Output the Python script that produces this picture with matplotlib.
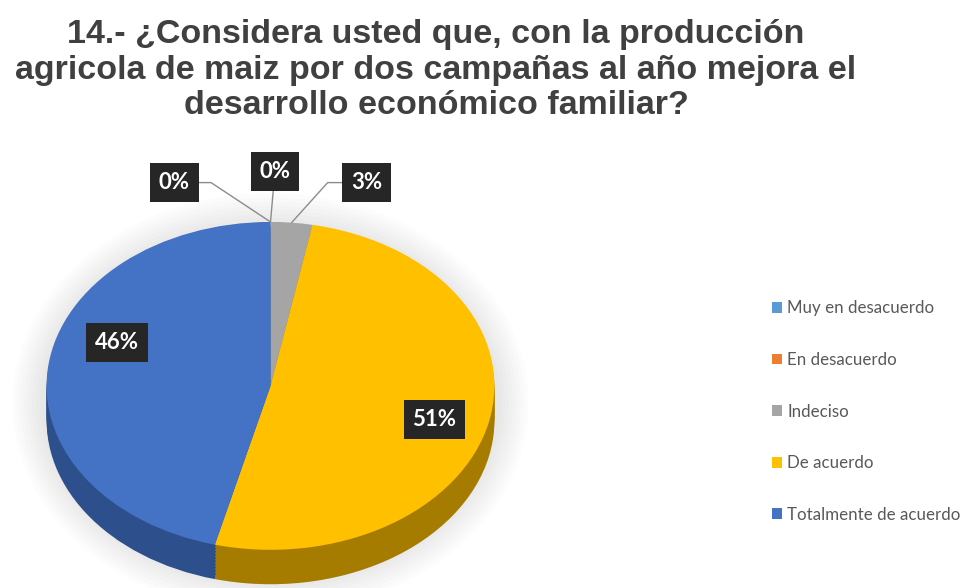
import numpy as np
import matplotlib
matplotlib.use("Agg")
import matplotlib.pyplot as plt
from matplotlib.patches import Ellipse

# Survey answers for question 14 (percent of respondents)
categories = ["Muy en desacuerdo", "En desacuerdo", "Indeciso",
              "De acuerdo", "Totalmente de acuerdo"]
percent = [0, 0, 3, 51, 46]
colors = ["#5B9BD5", "#ED7D31", "#A5A5A5", "#FFC000", "#4472C4"]
side_colors = ["#3E6F9E", "#A5521C", "#707070", "#A67C00", "#2D4F8C"]

title = ("14.- ¿Considera usted que, con la producción\n"
         "agricola de maiz por dos campañas al año mejora el\n"
         "desarrollo económico familiar?")

fig = plt.figure(figsize=(9.68, 5.88), dpi=100)
fig.patch.set_facecolor("white")

# pie axes: x stretched wider than y to give a tilted look
ax = fig.add_axes([13 / 968, -11 / 588, 515 / 968, 541 / 588])

depth = 0.21

# soft halo around the pie
for k in range(8):
    ax.add_patch(Ellipse((0, -depth / 2), 2.06 + k * 0.035, 2.0 + depth + k * 0.05,
                         facecolor="#000000", alpha=0.012, edgecolor="none", zorder=0))

# side of the pie (same pie shifted down, darker)
for y in np.linspace(-depth, 0, 12)[:-1]:
    ax.pie(percent, colors=side_colors, startangle=90, counterclock=False,
           center=(0, y), radius=1, wedgeprops=dict(linewidth=0), normalize=True)

# top face
wedges, _ = ax.pie(percent, colors=colors, startangle=90, counterclock=False,
                   radius=1, wedgeprops=dict(linewidth=0), normalize=True)

ax.set_aspect("auto")
ax.set_xlim(-1.15, 1.15)
ax.set_ylim(-1.3, 2.0)
ax.axis("off")

# slice angles (clockwise from 12 o'clock)
frac = np.array(percent) / sum(percent)
ends = 90 - 360 * np.cumsum(frac)
starts = ends + 360 * frac
mids = np.deg2rad((starts + ends) / 2)

box = dict(boxstyle="square,pad=0.4", facecolor="#262626", edgecolor="none")
label_font = dict(color="white", fontsize=16, fontweight="bold", family="Lato",
                  ha="center", va="center")

# small slices: labels above the pie with leader lines
small = {
    0: ((-0.43, 1.24), "angle,angleA=0,angleB=-33.5,rad=0"),
    1: ((0.02, 1.31), "arc3"),
    2: ((0.43, 1.24), "angle,angleA=0,angleB=48,rad=0"),
}
for i, (pos, cs) in small.items():
    ax.annotate(f"{percent[i]}%", xy=(np.cos(mids[i]), np.sin(mids[i])),
                xytext=pos, textcoords="data", bbox=box, zorder=5,
                arrowprops=dict(arrowstyle="-", color="#8C8C8C", lw=1,
                                shrinkA=0, shrinkB=0, connectionstyle=cs),
                **label_font)

# large slices: labels inside
inside = {3: (0.75, -0.04), 4: (0.69, 0.18)}
for i, (r, dy) in inside.items():
    ax.text(r * np.cos(mids[i]), r * np.sin(mids[i]) + dy, f"{percent[i]}%",
            bbox=box, zorder=5, **label_font)

fig.text(436 / 968, 1 - 70 / 588, title, ha="center", va="center",
         fontsize=24.5, fontweight="bold", family="Liberation Sans",
         color="#404040", linespacing=1.2)

leg = fig.legend(wedges, categories, loc="center left",
                 bbox_to_anchor=(0.789, 0.30), frameon=False,
                 prop=dict(family="Lato", size=12.2), labelcolor="#595959",
                 handlelength=0.6, handleheight=0.6, handletextpad=0.3,
                 labelspacing=2.1, borderpad=0)

fig.savefig("out.png", dpi=100, facecolor="white")
